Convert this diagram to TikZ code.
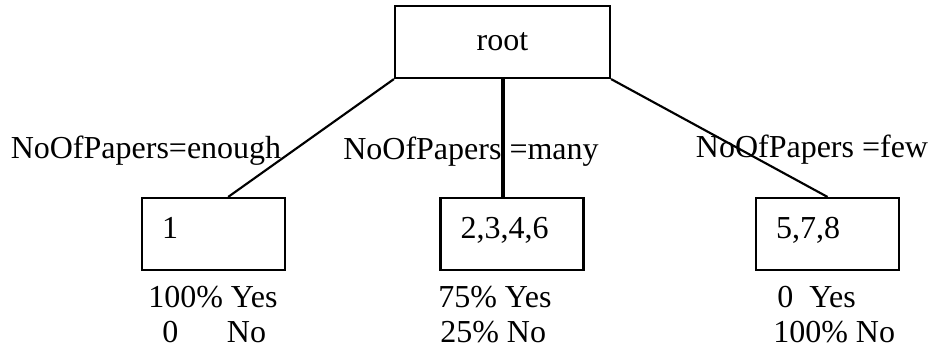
\documentclass[tikz,border=0pt]{standalone}
\usepackage{fontspec}
\setmainfont{Liberation Serif}

\tikzset{
    every node/.style={font=\fontsize{24}{28}\selectfont},
    rootbox/.style={draw, line width=1.6pt, minimum width=161.25pt, minimum height=54pt, inner sep=0pt},
    leafbox/.style={draw, line width=1.6pt, minimum height=54pt, text width=77.25pt, inner xsep=15pt, inner ysep=0pt, align=left, text height=16pt, text depth=9pt},
    branch/.style={line width=1.6pt},
    cond/.style={anchor=base, inner sep=0pt},
    stat/.style={anchor=base west, inner sep=0pt}
}

\begin{document}
\begin{tikzpicture}[x=0.75pt, y=-0.75pt]
    \useasboundingbox (0, 0) rectangle (938, 351);

    % 根结点
    \node[rootbox] (root) at (502.5, 42) {root};

    % 叶结点
    \node[leafbox] (leafA) at (213.5, 234) {1};
    \node[leafbox] (leafB) at (512, 234) {2,3,4,6};
    \node[leafbox] (leafC) at (827.5, 234) {5,7,8};

    % 分支
    \draw[branch] (root.south west) -- ([xshift=11pt]leafA.north);
    \draw[line width=3pt] (root.south) -- (root.south |- leafB.north);
    \draw[branch] (root.south east) -- (leafC.north);

    % 分支条件
    \node[cond] (condA) at (146, 158) {NoOfPapers=enough};
    \node[cond] (condB) at (471, 159) {NoOfPapers =many};
    \node[cond] (condC) at (812, 157) {NoOfPapers =few};

    % 各叶结点的比例
    \node[stat] (statA1) at (148, 307) {100\% Yes};
    \node[stat] (statA2) at (162, 342) {0\hspace{36.5pt}No};
    \node[stat] (statB1) at (438, 307) {75\% Yes};
    \node[stat] (statB2) at (440, 342) {25\% No};
    \node[stat] (statC1) at (777, 307) {0\ \ Yes};
    \node[stat] (statC2) at (773, 342) {100\% No};
\end{tikzpicture}
\end{document}
